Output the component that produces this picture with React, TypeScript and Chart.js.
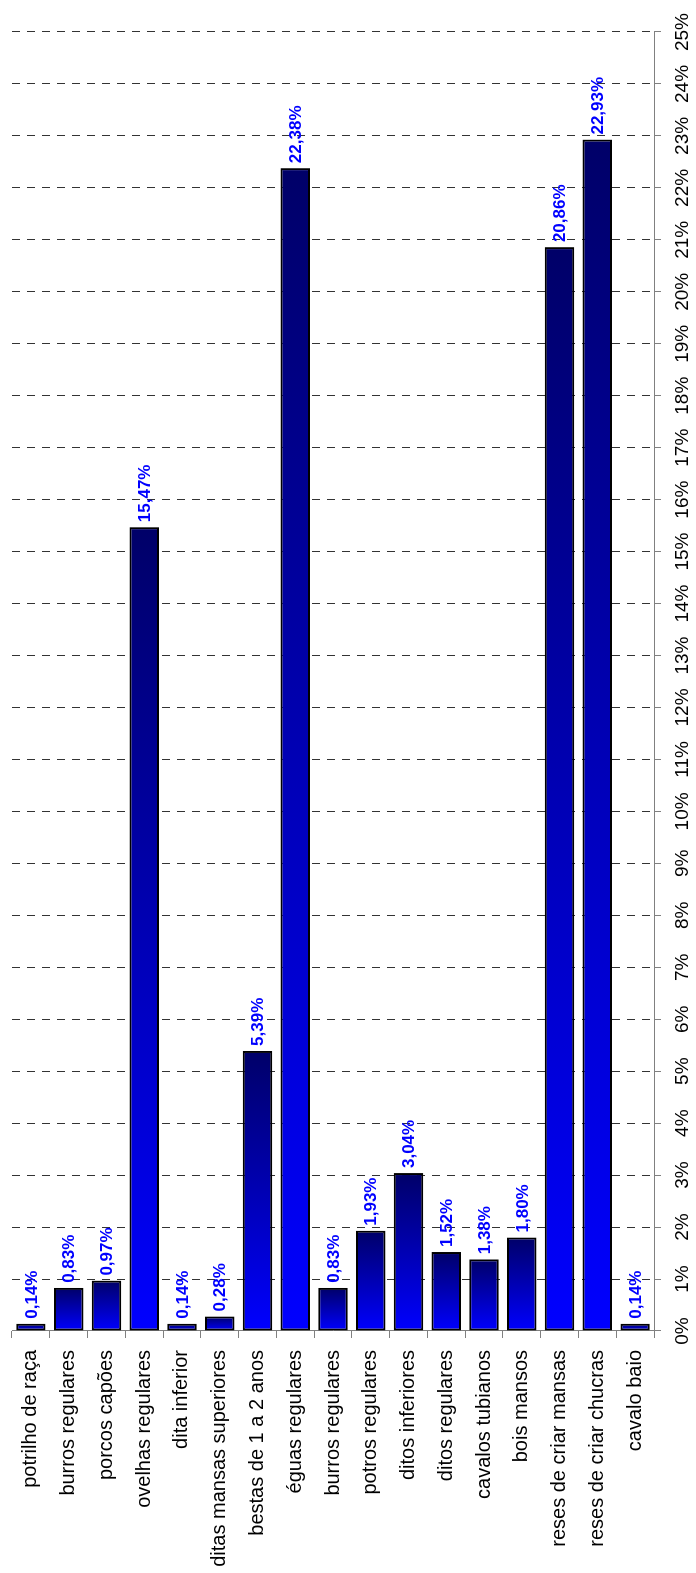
import React, { useEffect, useRef } from "react";
import { Chart, registerables } from "chart.js";

Chart.register(...registerables);

// Livestock categories and their share of the total (%)
const categories: string[] = [
  "potrilho de raça",
  "burros regulares",
  "porcos capões",
  "ovelhas regulares",
  "dita inferior",
  "ditas mansas superiores",
  "bestas de 1 a 2 anos",
  "éguas regulares",
  "burros regulares",
  "potros regulares",
  "ditos inferiores",
  "ditos regulares",
  "cavalos tubianos",
  "bois mansos",
  "reses de criar mansas",
  "reses de criar chucras",
  "cavalo baio",
];

const shares: number[] = [
  0.14, 0.83, 0.97, 15.47, 0.14, 0.28, 5.39, 22.38, 0.83, 1.93, 3.04, 1.52,
  1.38, 1.8, 20.86, 22.93, 0.14,
];

const axisMin = 0;
const axisMax = 25;
const axisStep = 1;

const FONT = '"Liberation Sans", Arial, Helvetica, sans-serif';
const W = 1573;
const H = 696;

const fmtPct = (v: number) => v.toFixed(2).replace(".", ",") + "%";

// Writes each bar's percentage just past its tip
const valueLabels = {
  id: "valueLabels",
  afterDatasetsDraw(chart: any) {
    const meta = chart.getDatasetMeta(0);
    const c = chart.ctx as CanvasRenderingContext2D;
    c.save();
    c.font = `bold 17px ${FONT}`;
    c.fillStyle = "#0000ff";
    c.textAlign = "left";
    c.textBaseline = "middle";
    meta.data.forEach((bar: any, i: number) => {
      c.fillText(fmtPct(shares[i]), bar.x + 5, bar.y + 1);
    });
    c.restore();
  },
};

export default function App() {
  const canvasRef = useRef<HTMLCanvasElement | null>(null);

  useEffect(() => {
    document.body.style.margin = "0";
    document.documentElement.style.overflow = "hidden";
    const canvas = canvasRef.current;
    if (!canvas) return;

    const chart = new Chart(canvas, {
      type: "bar",
      data: {
        labels: categories,
        datasets: [
          {
            data: shares,
            backgroundColor: (ctx: any) => {
              const ch = ctx.chart;
              const xs = ch.scales?.x;
              if (!ch.chartArea || !xs || typeof ctx.raw !== "number") return "#0000ff";
              const x0 = xs.getPixelForValue(0);
              const x1 = xs.getPixelForValue(ctx.raw);
              if (Math.abs(x1 - x0) < 1) return "#0000c0";
              const g = ch.ctx.createLinearGradient(x0, 0, x1, 0);
              g.addColorStop(0, "#0000ff");
              g.addColorStop(1, "#000068");
              return g;
            },
            borderColor: "#000000",
            borderWidth: 2,
            borderSkipped: false,
            barPercentage: 0.78,
            categoryPercentage: 1,
          },
        ],
      },
      options: {
        indexAxis: "y",
        responsive: false,
        animation: false,
        events: [],
        layout: { padding: { top: 12, right: 32, left: 0, bottom: 0 } },
        plugins: {
          legend: { display: false },
          tooltip: { enabled: false },
          title: { display: false },
        },
        scales: {
          x: {
            type: "linear",
            position: "bottom",
            min: axisMin,
            max: axisMax,
            ticks: {
              stepSize: axisStep,
              color: "#000000",
              font: { family: FONT, size: 19 },
              padding: 10,
              maxRotation: 0,
              autoSkip: false,
              callback: (v: any) => `${v}%`,
            },
            grid: {
              color: (ctx: any) => (ctx.index === 0 ? "rgba(0,0,0,0)" : "#333333"),
              lineWidth: 1,
              tickColor: "#808080",
              tickLength: 7,
              drawTicks: true,
            },
            border: { display: true, color: "#808080", width: 1, dash: [8, 7] },
            afterFit: (scale: any) => {
              scale.height = H - 654;
              scale.paddingLeft = 0;
              scale.paddingRight = 0;
            },
          },
          y: {
            type: "category",
            position: "left",
            offset: true,
            ticks: {
              color: "#000000",
              font: { family: FONT, size: 20 },
              padding: 12,
              autoSkip: false,
            },
            grid: {
              offset: true,
              drawOnChartArea: false,
              drawTicks: true,
              tickLength: 7,
              color: "#808080",
              tickColor: "#808080",
            },
            border: { display: true, color: "#808080", width: 1 },
            afterFit: (scale: any) => {
              scale.width = 242;
              scale.paddingTop = 0;
              scale.paddingBottom = 0;
            },
          },
        },
      },
      plugins: [valueLabels],
    } as any);

    return () => chart.destroy();
  }, []);

  return (
    <div
      style={{
        position: "fixed",
        left: 0,
        top: 0,
        width: W,
        height: H,
        transformOrigin: "0 0",
        transform: `translateY(${W}px) rotate(-90deg)`,
        background: "#ffffff",
      }}
    >
      <canvas ref={canvasRef} width={W} height={H} style={{ display: "block" }} />
    </div>
  );
}
